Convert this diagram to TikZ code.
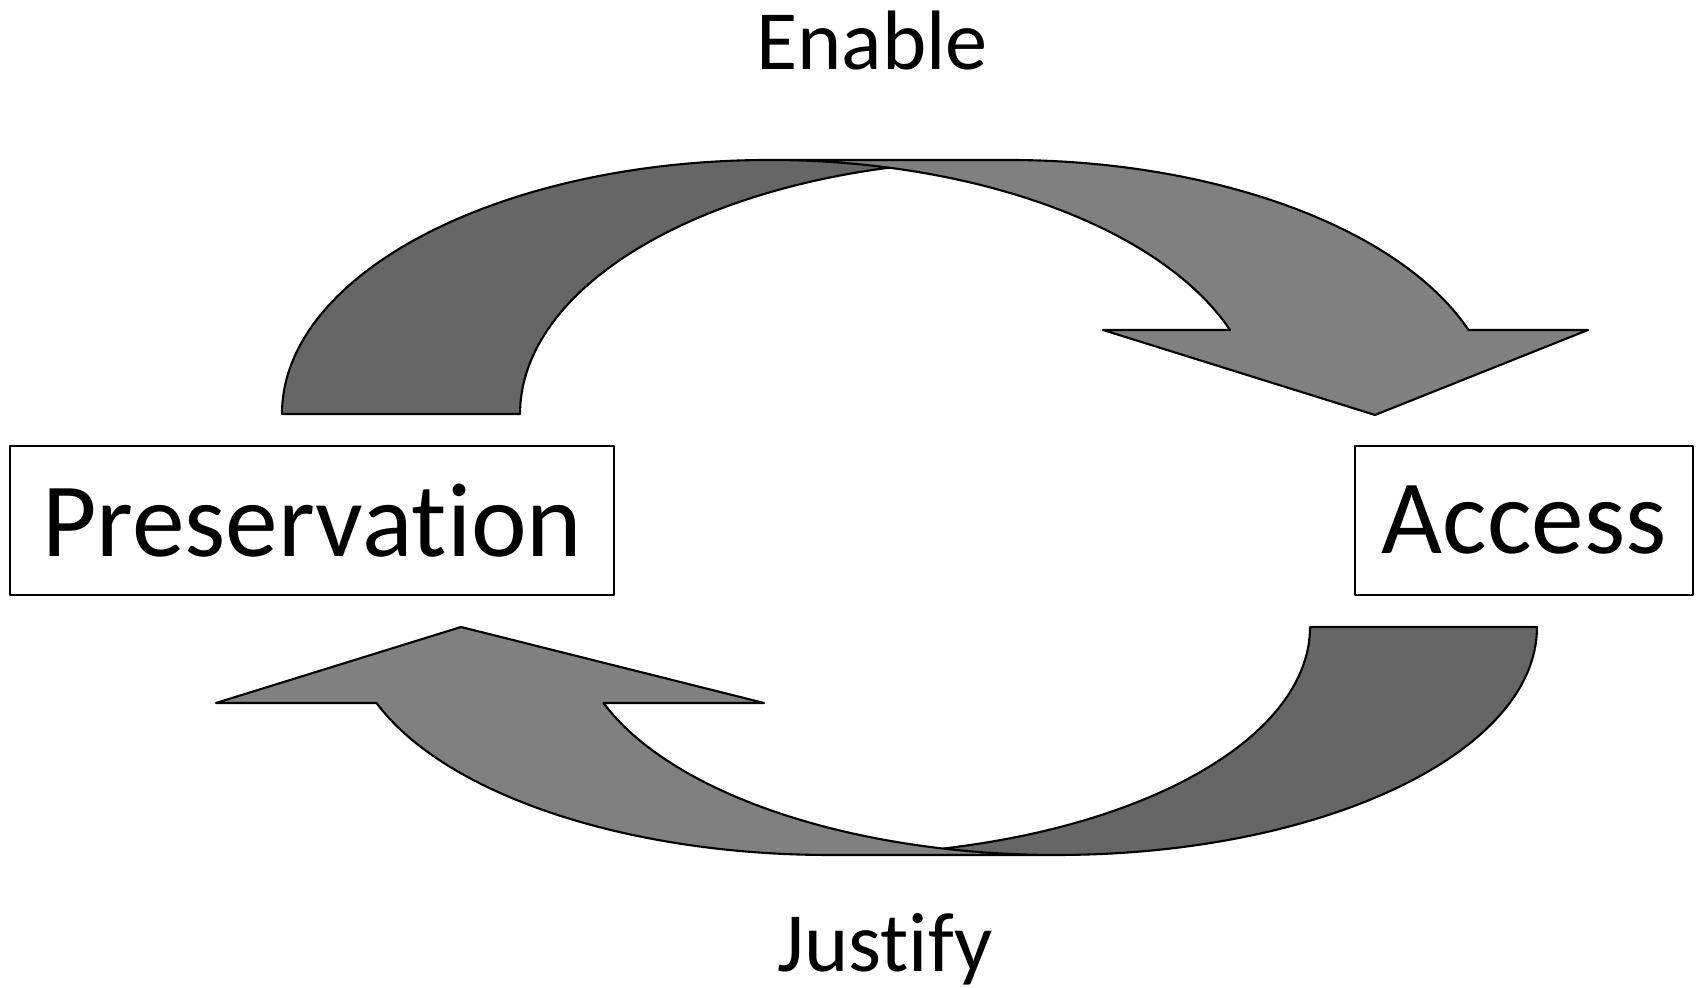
\documentclass[tikz,border=0pt]{standalone}
\usepackage{fontspec}
\setmainfont{Carlito}[Ligatures=NoCommon]
\usepackage{xcolor}
\usepackage{tikz}

\definecolor{front}{HTML}{808080}
\definecolor{back}{HTML}{666666}

\begin{document}
\begin{tikzpicture}[line width=0.6pt, line join=round,
		box/.style={draw, inner sep=0pt, minimum height=1.49cm, font=\fontsize{30}{36}\selectfont},
		lbl/.style={anchor=base, font=\fontsize{24}{29}\selectfont},
		top ell/.style={x radius=4.88, y radius=2.54},
		bot ell/.style={x radius=4.805, y radius=2.28}]
			\useasboundingbox (0,0) rectangle (16.96,9.88);
			% upper arrow (Preservation -> Access)
			\fill[front] (13.75,5.73) -- (11.03,6.58) -- (12.30,6.58)
				arc[top ell, start angle=19.31, end angle=90] -- (10.08,8.28)
				arc[top ell, start angle=90, end angle=19.31] -- (15.88,6.58) -- cycle;
			\fill[back] (8.89,8.203) arc[top ell, start angle=104.12, end angle=180] -- (2.82,5.74)
				arc[top ell, start angle=180, end angle=75.88] -- cycle;
			\draw (8.89,8.203) arc[top ell, start angle=104.12, end angle=180] -- (2.82,5.74)
				arc[top ell, start angle=180, end angle=90] -- (10.08,8.28)
				arc[top ell, start angle=90, end angle=19.31] -- (15.88,6.58) -- (13.75,5.73)
				-- (11.03,6.58) -- (12.30,6.58) arc[top ell, start angle=19.31, end angle=90];
			% lower arrow (Access -> Preservation)
			\fill[front] (4.61,3.61) -- (7.64,2.85) -- (6.035,2.85)
				arc[bot ell, start angle=199.47, end angle=270] -- (8.295,1.33)
				arc[bot ell, start angle=270, end angle=199.47] -- (2.16,2.85) -- cycle;
			\fill[back] (9.43,1.3945) arc[bot ell, start angle=283.66, end angle=360] -- (15.37,3.61)
				arc[bot ell, start angle=0, end angle=-103.66] -- cycle;
			\draw (9.43,1.3945) arc[bot ell, start angle=283.66, end angle=360] -- (15.37,3.61)
				arc[bot ell, start angle=0, end angle=-90] -- (8.295,1.33)
				arc[bot ell, start angle=270, end angle=199.47] -- (2.16,2.85) -- (4.61,3.61)
				-- (7.64,2.85) -- (6.035,2.85) arc[bot ell, start angle=199.47, end angle=270];
			% boxes and labels
			\node[box, minimum width=6.04cm] (pres) at (3.12,4.675) {Preservation};
			\node[box, minimum width=3.38cm] (acc) at (15.24,4.675) {Access};
			\node[lbl] (enable) at (8.72,9.18) {Enable};
			\node[lbl] (justify) at (8.85,0.16) {Justify};
		\end{tikzpicture}
\end{document}
